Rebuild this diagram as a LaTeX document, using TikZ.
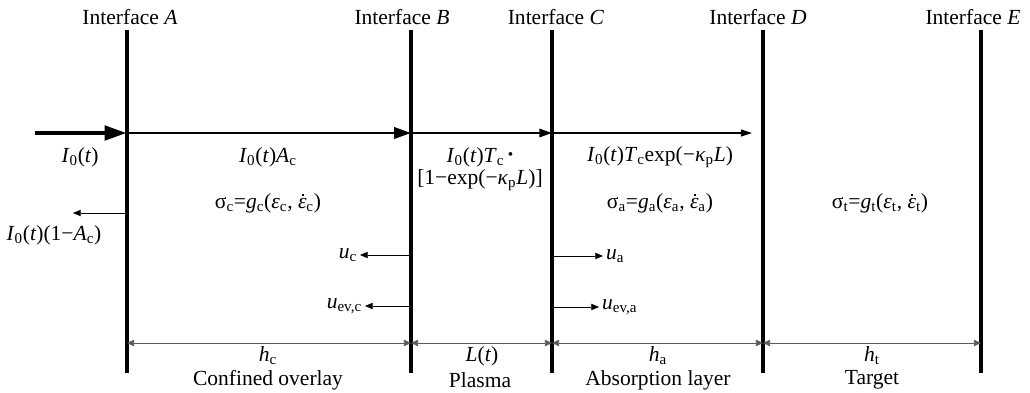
\documentclass[tikz,border=0pt]{standalone}
\usepackage{fontspec}
\setmainfont{Liberation Serif}
\usetikzlibrary{arrows.meta, positioning, calc}
\newcommand{\lsub}[1]{\textsubscript{#1}}
\newcommand{\iv}[1]{\textit{#1}}
\newcommand{\epsdot}{\textit{ε}\llap{\raisebox{0.57em}{\rule{0.1em}{0.1em}}\hspace{0.12em}}}
\newcommand{\tdot}{\raisebox{0.12em}{\fontsize{11}{11}\selectfont•}}
\tikzset{
  iface/.style={line width=2.9pt},
  txt/.style={font=\fontsize{15.3}{18}\selectfont, inner sep=0pt},
  beamin/.style={line width=3.5pt, -{Triangle[length=16pt,width=10pt]}},
  beamc/.style={line width=2pt, -{Triangle[length=12pt,width=8pt]}},
  beamp/.style={line width=1.3pt, -{Triangle[length=9pt,width=6pt]}},
  beama/.style={line width=0.8pt, -{Triangle[length=8pt,width=5pt]}},
  vel/.style={line width=0.5pt, -{Triangle[length=5.5pt,width=4.5pt]}},
  dimline/.style={line width=0.5pt, black!65, {Triangle[length=5pt,width=4.5pt]}-{Triangle[length=5pt,width=4.5pt]}}
}
\begin{document}
\begin{tikzpicture}[x=0.025cm, y=-0.025cm]
  \useasboundingbox (0,0) rectangle (1030,393);
  % interfaces
  \foreach \n/\x/\lx in {A/127/130, B/411/402, C/552/556, D/763/758, E/981/973}{
    \coordinate (top\n) at (\x,30);
    \coordinate (bot\n) at (\x,373);
    \coordinate (beam\n) at (\x,133);
    \coordinate (dim\n) at (\x,343);
    \draw[iface] (top\n) -- (bot\n);
    \node[txt] (lab\n) at (\lx,17) {Interface \textit{\n}};
  }
  % laser beam
  \coordinate (src) at (35,133);
  \coordinate (beamend) at (752,133);
  \draw[beamin] (src) -- (beamA);
  \draw[beamc] (beamA) -- (beamB);
  \draw[beamp] (beamB) -- (beamC);
  \draw[beama] (beamC) -- (beamend);
  \node[txt] (I0) at (80,157) {\iv{I}\lsub{0}(\iv{t})};
  \node[txt] (IAc) at (268,157) {\iv{I}\lsub{0}(\iv{t})\iv{A}\lsub{c}};
  \node[txt] (ITc) at (480,157) {\iv{I}\lsub{0}(\iv{t})\iv{T}\lsub{c}\,\tdot};
  \node[txt] (Iabs) at (480,180) {[1−exp(−\iv{κ}\lsub{p}\iv{L})]};
  \node[txt] (Itr) at (660,157) {\iv{I}\lsub{0}(\iv{t})\iv{T}\lsub{c}exp(−\iv{κ}\lsub{p}\iv{L})};
  % reflected part
  \coordinate (refl) at (73,213);
  \draw[vel] (topA |- refl) -- (refl);
  \node[txt] (Iref) at (54,235) {\iv{I}\lsub{0}(\iv{t})(1−\iv{A}\lsub{c})};
  % constitutive laws
  \node[txt] (sigc) at (268,203) {σ\lsub{c}=\iv{g}\lsub{c}(\iv{ε}\lsub{c}, \epsdot\lsub{c})};
  \node[txt] (siga) at (660,203) {σ\lsub{a}=\iv{g}\lsub{a}(\iv{ε}\lsub{a}, \epsdot\lsub{a})};
  \node[txt] (sigt) at (880,203) {σ\lsub{t}=\iv{g}\lsub{t}(\iv{ε}\lsub{t}, \epsdot\lsub{t})};
  % velocities
  \node[txt, anchor=east, inner xsep=2pt] (uc) at (360,255) {\iv{u}\lsub{c}};
  \node[txt, anchor=east, inner xsep=2pt] (uevc) at (365,306) {\iv{u}\lsub{ev,c}};
  \node[txt, anchor=west, inner xsep=2pt] (ua) at (603,256) {\iv{u}\lsub{a}};
  \node[txt, anchor=west, inner xsep=2pt] (ueva) at (599,307) {\iv{u}\lsub{ev,a}};
  \draw[vel] (topB |- uc.east) -- (uc.east);
  \draw[vel] (topB |- uevc.east) -- (uevc.east);
  \draw[vel] (topC |- ua.west) -- (ua.west);
  \draw[vel] (topC |- ueva.west) -- (ueva.west);
  % thicknesses
  \draw[dimline] (dimA) -- (dimB);
  \draw[dimline] (dimB) -- (dimC);
  \draw[dimline] (dimC) -- (dimD);
  \draw[dimline] (dimD) -- (dimE);
  \node[txt] (hc) at (268,356) {\iv{h}\lsub{c}};
  \node[txt] (Lt) at (482,356) {\iv{L}(\iv{t})};
  \node[txt] (ha) at (658,356) {\iv{h}\lsub{a}};
  \node[txt] (ht) at (872,356) {\iv{h}\lsub{t}};
  \node[txt] (over) at (268,380) {Confined overlay};
  \node[txt] (plas) at (480,380) {Plasma};
  \node[txt] (absl) at (658,380) {Absorption layer};
  \node[txt] (targ) at (872,380) {Target};
\end{tikzpicture}
\end{document}
